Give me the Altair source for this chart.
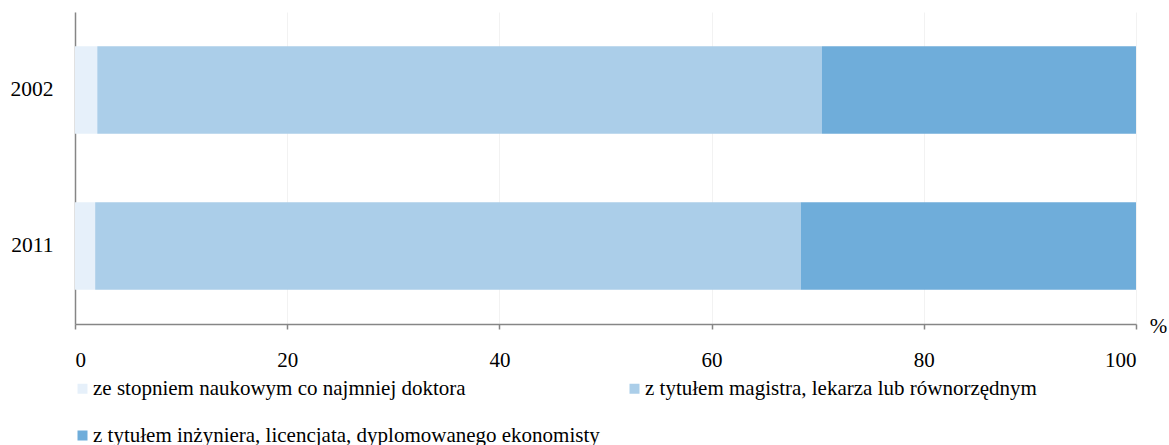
import altair as alt
import pandas as pd

# Share of graduates by level of education, per census year (%)
years = ["2002", "2011"]
categories = [
    "ze stopniem naukowym co najmniej doktora",
    "z tytułem magistra, lekarza lub równorzędnym",
    "z tytułem inżyniera, licencjata, dyplomowanego ekonomisty",
]
colors = ["#E6F0FA", "#ABCEE9", "#6FADDA"]
values_2002 = [2.1, 68.3, 29.6]
values_2011 = [1.9, 66.5, 31.6]

rows = []
for year, vals in zip(years, [values_2002, values_2011]):
    for i, (cat, v) in enumerate(zip(categories, vals)):
        rows.append({"rok": year, "kategoria": cat, "wartosc": v, "kolejnosc": i})
df = pd.DataFrame(rows)

FONT = "Liberation Serif"

chart = (
    alt.Chart(df)
    .mark_bar()
    .encode(
        y=alt.Y(
            "rok:N",
            sort=years,
            title=None,
            scale=alt.Scale(paddingInner=0.44, paddingOuter=0.22),
            axis=alt.Axis(
                ticks=False,
                labelPadding=22,
                labelFontSize=21.5,
                labelFont=FONT,
                labelColor="#000000",
                domainColor="#868686",
                domainWidth=1.5,
                grid=False,
            ),
        ),
        x=alt.X(
            "wartosc:Q",
            stack="zero",
            scale=alt.Scale(domain=[0, 100], nice=False),
            axis=alt.Axis(
                values=[0, 20, 40, 60, 80, 100],
                title="%",
                titleAngle=0,
                titleX=1083,
                titleY=2,
                titleAlign="center",
                titleBaseline="middle",
                titleFont=FONT,
                titleFontSize=21,
                titleFontWeight="normal",
                titleColor="#000000",
                labelFont=FONT,
                labelFontSize=21,
                labelColor="#000000",
                labelPadding=20,
                tickColor="#868686",
                tickSize=5,
                tickWidth=1.5,
                domainColor="#868686",
                domainWidth=1.5,
                gridColor="#F2F2F2",
                gridWidth=1,
            ),
        ),
        color=alt.Color(
            "kategoria:N",
            scale=alt.Scale(domain=categories, range=colors),
            legend=alt.Legend(
                title=None,
                values=categories,
                orient="none",
                direction="horizontal",
                legendX=-3,
                legendY=366,
                padding=0,
                columns=2,
                columnPadding=24,
                rowPadding=25,
                symbolType="square",
                symbolSize=100,
                symbolStrokeWidth=0,
                symbolOpacity=1,
                labelFont=FONT,
                labelFontSize=21,
                labelColor="#000000",
                labelOffset=0,
                labelLimit=800,
            ),
        ),
        order=alt.Order("kolejnosc:Q", sort="ascending"),
    )
    .properties(
        width=1061,
        height=312,
        autosize=alt.AutoSizeParams(type="none"),
        padding={"left": 75, "top": 12, "right": 33, "bottom": 121},
        background="#FFFFFF",
    )
    .configure_view(stroke=None)
    .configure_legend(labelFont=FONT)
)

chart.save("out.html", embed_options={"renderer": "svg", "actions": False})
